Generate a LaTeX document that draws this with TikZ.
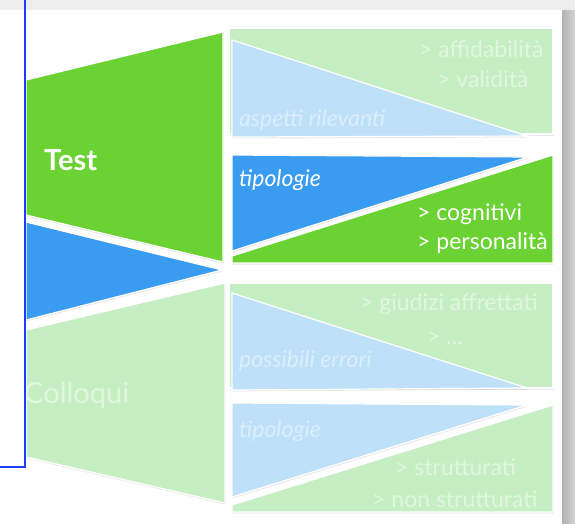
\documentclass[tikz,border=0pt]{standalone}
\usepackage{fontspec}
\setmainfont{Lato}
\usetikzlibrary{shadows}
\definecolor{testgreen}{HTML}{6AD232}
\definecolor{testblue}{HTML}{3A9CF0}
\definecolor{palegreen}{HTML}{C6EEC3}
\definecolor{paleblue}{HTML}{BEE0F8}
\definecolor{frameblue}{HTML}{1F3CFF}
\begin{document}
\begin{tikzpicture}[x=1pt,y=-1pt,font=\fontsize{23}{27}\selectfont,
  piece/.style={draw=white,line width=1.2pt,drop shadow={opacity=.18,shadow xshift=.5pt,shadow yshift=-1.5pt}},
  lbl/.style={inner sep=0pt,anchor=base west},
  faintg/.style={lbl,text=white!45!palegreen},
  faintb/.style={lbl,text=white!45!paleblue,font=\fontsize{23}{27}\selectfont\itshape}]
\useasboundingbox (0,0) rectangle (575,523);
% page edges
\fill[gray!14] (0,0) rectangle (575,10);
\shade[left color=gray!60,right color=gray!35] (562,10) rectangle (575,523);
% left column
\path[piece,fill=testgreen] (26,80) -- (223,32) -- (223,262) -- (26,215) -- cycle;
\path[piece,fill=testblue] (26,222) -- (222,270) -- (26,320) -- cycle;
\path[piece,fill=palegreen] (26,330) -- (225,283) -- (225,503) -- (26,457) -- cycle;
% block aspetti
\path[piece,fill=palegreen] (229,28) rectangle (553,134);
\path[piece,fill=paleblue] (232,40) -- (527,136) -- (232,137) -- cycle;
% block tipologie (test)
\path[piece,fill=testgreen] (232,256) -- (553,155) -- (553,263) -- (232,263) -- cycle;
\path[piece,fill=testblue] (232,155) -- (528,157) -- (232,251) -- cycle;
% block errori
\path[piece,fill=palegreen] (229,283) rectangle (553,388);
\path[piece,fill=paleblue] (232,293) -- (527,388) -- (232,390) -- cycle;
% block tipologie (colloqui)
\path[piece,fill=palegreen] (232,505) -- (553,405) -- (553,512) -- (232,512) -- cycle;
\path[piece,fill=paleblue] (232,403) -- (527,405) -- (232,497) -- cycle;
% labels
\node[lbl,text=white,font=\fontsize{29}{32}\selectfont\bfseries] (test) at (44,170) {Test};
\node[faintg,font=\fontsize{29}{32}\selectfont] (colloqui) at (24,403) {Colloqui};
\node[faintb] (aspetti) at (239,126) {aspetti rilevanti};
\node[faintg] (affid) at (419,57) {> affidabilità};
\node[faintg] (valid) at (437,87) {> validità};
\node[lbl,text=white,font=\fontsize{23}{27}\selectfont\itshape] (tipotest) at (239,186) {tipologie};
\node[lbl,text=white] (cogn) at (417,220) {> cognitivi};
\node[lbl,text=white] (pers) at (417,249) {> personalità};
\node[faintg] (giudizi) at (360,310) {> giudizi affrettati};
\node[faintg] (dots) at (427,344) {> ...};
\node[faintb] (errori) at (239,367) {possibili errori};
\node[faintb] (tipocoll) at (239,437) {tipologie};
\node[faintg] (strutt) at (395,475) {> strutturati};
\node[faintg] (nonstrutt) at (372,507) {> non strutturati};
% frame
\draw[frameblue,line width=1.4pt] (25,0) -- (25,467) -- (0,467);
\end{tikzpicture}
\end{document}
